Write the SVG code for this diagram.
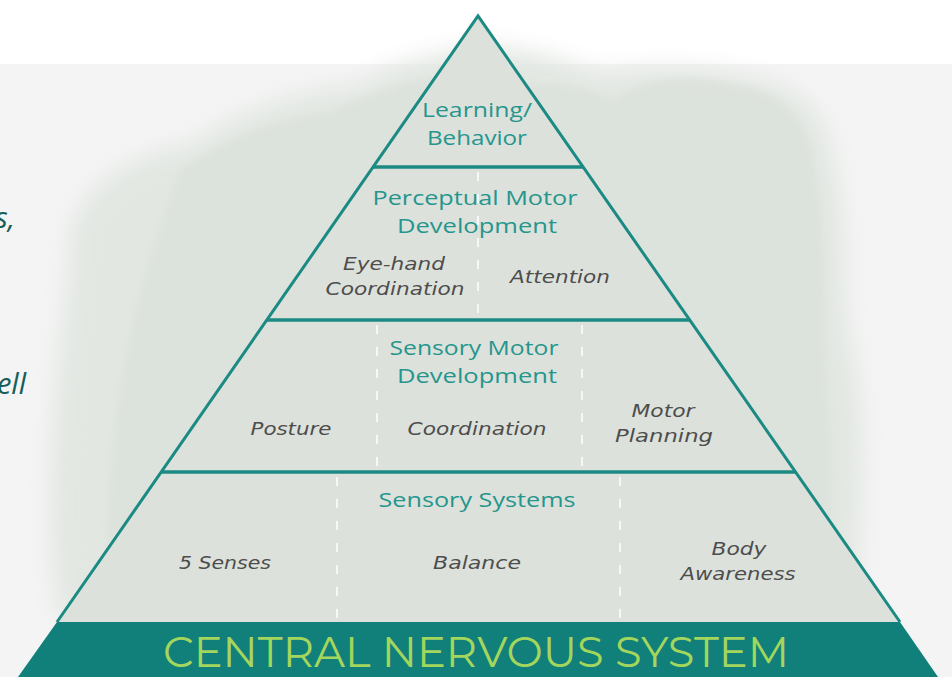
<svg xmlns="http://www.w3.org/2000/svg" width="952" height="677" viewBox="0 0 952 677">
<defs>
<filter id="blur" x="-20%" y="-20%" width="140%" height="140%"><feGaussianBlur stdDeviation="12"/></filter>
<filter id="blur2" x="-20%" y="-20%" width="140%" height="140%"><feGaussianBlur stdDeviation="3"/></filter>
<style>
.edge{fill:none;stroke:#1b8a83;stroke-width:3;stroke-linejoin:miter}
.div{stroke:#1b8a83;stroke-width:3.5}
.dash{stroke:#ffffff;stroke-width:2;stroke-dasharray:9 13;opacity:0.75}
.hd{font-family:"Open Sans","Liberation Sans",sans-serif;font-size:20px;fill:#25968d;text-anchor:middle}
.it{font-family:"DejaVu Sans","Liberation Sans",sans-serif;font-style:italic;font-size:18px;fill:#4d4d4d;text-anchor:middle}
.side{font-family:"Open Sans","Liberation Sans",sans-serif;font-style:italic;font-size:29px;fill:#155e5a}
</style>
</defs>
<rect x="0" y="0" width="952" height="677" fill="#ffffff"/>
<rect x="0" y="64" width="952" height="613" fill="#f4f4f4"/>
<g id="background-wash">
<path d="M70 260 C60 190 140 150 190 145 C240 110 300 90 360 85 C400 60 440 55 470 48 C520 45 560 60 600 75 C640 68 700 65 760 80 C810 90 830 120 835 170 C850 230 840 290 850 340 C870 420 860 520 855 620 L60 620 C40 520 55 380 70 260 Z" fill="#e2e7e2" filter="url(#blur)"/>
<path d="M180 170 C230 135 280 118 330 112 C370 95 400 80 440 78 C470 72 500 78 530 85 C560 80 590 90 615 100 C640 78 690 72 740 85 C790 95 810 125 815 170 C830 240 820 330 830 420 C835 500 830 560 825 615 L110 615 C100 500 115 330 180 170 Z" fill="#dbe1db" filter="url(#blur2)" opacity="0.75"/>
</g>
<g id="pyramid-fill">
<polygon points="478,16 57,622 900,622" fill="#dde1db"/>
</g>
<g id="cns">
<polygon points="57,622 900,622 938,677 18,677" fill="#117f7a"/>
<text x="476" y="667" font-family="Montserrat,'Open Sans','Liberation Sans',sans-serif" font-size="43" fill="#a3d65c" text-anchor="middle" textLength="626" lengthAdjust="spacingAndGlyphs">CENTRAL NERVOUS SYSTEM</text>
</g>
<g id="connectors">
<line class="dash" x1="478" y1="172" x2="478" y2="316"/>
<line class="dash" x1="377" y1="325" x2="377" y2="468"/>
<line class="dash" x1="582" y1="325" x2="582" y2="468"/>
<line class="dash" x1="337" y1="477" x2="337" y2="618"/>
<line class="dash" x1="620" y1="477" x2="620" y2="618"/>
<polyline class="edge" points="57,622 478,16 900,622"/>
<line class="div" x1="373" y1="167" x2="583" y2="167"/>
<line class="div" x1="267" y1="320" x2="690" y2="320"/>
<line class="div" x1="161" y1="472" x2="796" y2="472"/>
</g>
<g id="learning">
<text class="hd" x="477" y="117" textLength="110" lengthAdjust="spacingAndGlyphs">Learning/</text>
<text class="hd" x="477" y="145" textLength="100" lengthAdjust="spacingAndGlyphs">Behavior</text>
</g>
<g id="perceptual">
<text class="hd" x="475" y="205" textLength="205" lengthAdjust="spacingAndGlyphs">Perceptual Motor</text>
<text class="hd" x="477" y="233" textLength="160" lengthAdjust="spacingAndGlyphs">Development</text>
<text class="it" x="394" y="270" textLength="102" lengthAdjust="spacingAndGlyphs">Eye-hand</text>
<text class="it" x="395" y="295" textLength="139" lengthAdjust="spacingAndGlyphs">Coordination</text>
<text class="it" x="560" y="283" textLength="100" lengthAdjust="spacingAndGlyphs">Attention</text>
</g>
<g id="sensory-motor">
<text class="hd" x="474" y="355" textLength="169" lengthAdjust="spacingAndGlyphs">Sensory Motor</text>
<text class="hd" x="477" y="383" textLength="160" lengthAdjust="spacingAndGlyphs">Development</text>
<text class="it" x="291" y="435" textLength="81" lengthAdjust="spacingAndGlyphs">Posture</text>
<text class="it" x="477" y="435" textLength="139" lengthAdjust="spacingAndGlyphs">Coordination</text>
<text class="it" x="663" y="417" textLength="63" lengthAdjust="spacingAndGlyphs">Motor</text>
<text class="it" x="664" y="442" textLength="98" lengthAdjust="spacingAndGlyphs">Planning</text>
</g>
<g id="sensory-systems">
<text class="hd" x="477" y="507" textLength="197" lengthAdjust="spacingAndGlyphs">Sensory Systems</text>
<text class="it" x="225" y="569" textLength="92" lengthAdjust="spacingAndGlyphs">5 Senses</text>
<text class="it" x="477" y="569" textLength="88" lengthAdjust="spacingAndGlyphs">Balance</text>
<text class="it" x="739" y="555" textLength="55" lengthAdjust="spacingAndGlyphs">Body</text>
<text class="it" x="738" y="580" textLength="115" lengthAdjust="spacingAndGlyphs">Awareness</text>
</g>
<g id="side-text">
<text class="side" x="15" y="228" text-anchor="end">s,</text>
<text class="side" x="26" y="394" text-anchor="end">ell</text>
</g>
</svg>
